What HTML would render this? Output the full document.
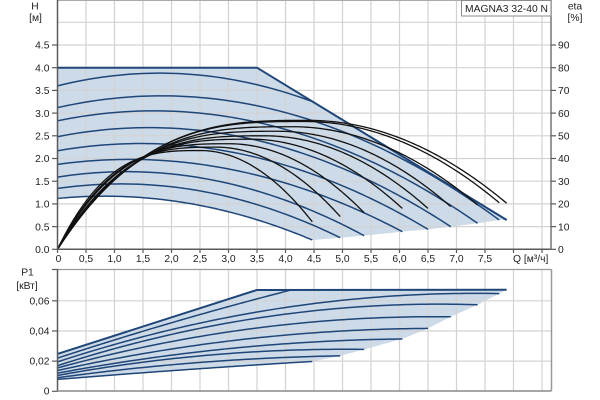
<!DOCTYPE html>
<html><head><meta charset="utf-8">
<style>
html,body{margin:0;padding:0;background:#fff;}
svg{display:block;}
text{font-family:"Liberation Sans",Arial,sans-serif;font-size:10.3px;fill:#222;}
</style></head><body>
<svg id="c" width="600" height="400" viewBox="0 0 600 400" xmlns="http://www.w3.org/2000/svg">
<g id="fills"></g>
<g id="grid"></g>
<g id="curves"></g>
<g id="axes"></g>
<g id="labels">
  <text x="35" y="9.5" text-anchor="middle">H</text>
  <text x="35.5" y="21" text-anchor="middle">[м]</text>
  <text x="575" y="9.5" text-anchor="middle">eta</text>
  <text x="575" y="21" text-anchor="middle">[%]</text>
  <text x="49.5" y="253" text-anchor="end">0.0</text>
  <text x="49.5" y="230.3" text-anchor="end">0.5</text>
  <text x="49.5" y="207.6" text-anchor="end">1.0</text>
  <text x="49.5" y="184.9" text-anchor="end">1.5</text>
  <text x="49.5" y="162.2" text-anchor="end">2.0</text>
  <text x="49.5" y="139.5" text-anchor="end">2.5</text>
  <text x="49.5" y="116.8" text-anchor="end">3.0</text>
  <text x="49.5" y="94.1" text-anchor="end">3.5</text>
  <text x="49.5" y="71.4" text-anchor="end">4.0</text>
  <text x="49.5" y="48.7" text-anchor="end">4.5</text>
  <text x="558" y="253">0</text>
  <text x="558" y="230.3">10</text>
  <text x="558" y="207.6">20</text>
  <text x="558" y="184.9">30</text>
  <text x="558" y="162.2">40</text>
  <text x="558" y="139.5">50</text>
  <text x="558" y="116.8">60</text>
  <text x="558" y="94.1">70</text>
  <text x="558" y="71.4">80</text>
  <text x="558" y="48.7">90</text>
  <text x="58.5" y="262" text-anchor="middle">0</text>
  <text x="86" y="262" text-anchor="middle">0,5</text>
  <text x="114.5" y="262" text-anchor="middle">1,0</text>
  <text x="143" y="262" text-anchor="middle">1,5</text>
  <text x="171.5" y="262" text-anchor="middle">2,0</text>
  <text x="200" y="262" text-anchor="middle">2,5</text>
  <text x="228.5" y="262" text-anchor="middle">3,0</text>
  <text x="257" y="262" text-anchor="middle">3,5</text>
  <text x="285.5" y="262" text-anchor="middle">4,0</text>
  <text x="314" y="262" text-anchor="middle">4,5</text>
  <text x="342.5" y="262" text-anchor="middle">5,0</text>
  <text x="371" y="262" text-anchor="middle">5,5</text>
  <text x="399.5" y="262" text-anchor="middle">6,0</text>
  <text x="428" y="262" text-anchor="middle">6,5</text>
  <text x="456.5" y="262" text-anchor="middle">7,0</text>
  <text x="485" y="262" text-anchor="middle">7,5</text>
  <text x="513" y="262">Q [м³/ч]</text>
  <text x="27.5" y="275.5" text-anchor="middle">P1</text>
  <text x="27" y="289" text-anchor="middle">[кВт]</text>
  <text x="49.5" y="304.5" text-anchor="end">0,06</text>
  <text x="49.5" y="334.5" text-anchor="end">0,04</text>
  <text x="49.5" y="364.7" text-anchor="end">0,02</text>
  <text x="49.5" y="394.7" text-anchor="end">0</text>
</g>
<rect x="461.5" y="0.5" width="89.5" height="15.5" fill="#fff" stroke="#8a8a8a" stroke-width="1"/>
<text x="465" y="11.8">MAGNA3 32-40 N</text>
</svg>
<script>
(function(){
const NS='http://www.w3.org/2000/svg';
function el(tag,attrs,parent){const e=document.createElementNS(NS,tag);for(const k in attrs)e.setAttribute(k,attrs[k]);parent.appendChild(e);return e;}
const gF=document.getElementById('fills'),gG=document.getElementById('grid'),gC=document.getElementById('curves'),gA=document.getElementById('axes');
const X=q=>57.5+57*q, YH=h=>249.3-45.4*h, YE=e=>249.3-2.27*e, YP=p=>391.3-1508*p;
const QE=[7.88,7.75,7.37,6.9,6.5,6.05,5.38,4.96,4.47];
const HP=[[3.60,0.28,0.645],[3.12,0.26,0.645],[2.83,0.22,0.573],[2.48,0.20,0.498],[2.17,0.16,0.44],[1.87,0.11,0.388],[1.59,0.12,0.30],[1.34,0.10,0.255],[1.12,0.05,0.205]];
const diag=q=>q<=3.5?4.0:4.0-(4.0-0.645)/(7.88-3.5)*(q-3.5);
const hf=HP.map((p,i)=>{const A=p[0],d=p[1],He=p[2],qe=QE[i];const s=(Math.sqrt(d)+Math.sqrt(d+A-He))/qe;const c=s*s,b=2*Math.sqrt(c*d);return q=>Math.min(A+b*q-c*q*q,diag(q));});
function pts(f,q0,q1,Y,n){const a=[];for(let k=0;k<=n;k++){const q=q0+(q1-q0)*k/n;a.push([X(q),Y(f(q))]);}return a;}
function pd(a){return 'M'+a.map(p=>p[0].toFixed(2)+','+p[1].toFixed(2)).join('L');}
const FILL='#cddae8', BLUE='#1e4678';
// H fill
let poly=[[X(0),YH(4)],[X(3.5),YH(4)],[X(7.88),YH(0.645)]];
for(let i=1;i<9;i++)poly.push([X(QE[i]),YH(HP[i][2])]);
poly=poly.concat(pts(hf[8],QE[8],0,YH,60));
el('path',{d:pd(poly)+'Z',fill:FILL,stroke:'none'},gF);
// P curves
const PP=[[0.022,2.05,0.046,4.1,0.0672],[0.0195,4.4,0.0577,7.75,0.0648],[0.017,4.4,0.053,7.37,0.0574],[0.0155,4.4,0.0457,6.9,0.0494],[0.0138,4.4,0.0385,6.5,0.0417],[0.012,4.4,0.0325,6.05,0.0347],[0.0105,4.4,0.0276,5.38,0.0278],[0.009,4.4,0.0230,4.96,0.0235],[0.0079,2.235,0.0143,4.47,0.0198]];
const pf=PP.map(p=>{const p0=p[0],qm=p[1],pm=p[2],qe=p[3],pe=p[4];const b=(pe-p0-qe*(pm-p0)/qm)/(qe*(qe-qm));const a=(pm-p0)/qm-qm*b;return q=>Math.min(p0+a*q+b*q*q,0.0673);});
let ppoly=[[X(0),YP(0.0248)],[X(3.5),YP(0.0672)],[X(7.88),YP(0.0673)]];
for(let i=1;i<9;i++)ppoly.push([X(PP[i][3]),YP(PP[i][4])]);
ppoly=ppoly.concat(pts(pf[8],PP[8][3],0,YP,40));
el('path',{d:pd(ppoly)+'Z',fill:FILL,stroke:'none'},gF);
// grid
const GC='#d3d3d3';
for(let k=1;k<=17;k++){const x=X(k*0.5);el('line',{x1:x,y1:0,x2:x,y2:249.3,stroke:GC,'stroke-width':1.2},gG);el('line',{x1:x,y1:269.5,x2:x,y2:391,stroke:GC,'stroke-width':1.2},gG);}
for(let k=1;k<=10;k++){const y=YH(k*0.5);el('line',{x1:57.5,y1:y,x2:551,y2:y,stroke:GC,'stroke-width':1.2},gG);}
[0.02,0.04,0.06].forEach(p=>{const y=YP(p);el('line',{x1:57.5,y1:y,x2:551.5,y2:y,stroke:GC,'stroke-width':1.2},gG);});
// H curves
for(let i=0;i<9;i++)el('path',{d:pd(pts(hf[i],0,QE[i],YH,90)),fill:'none',stroke:BLUE,'stroke-width':1.5},gC);
el('path',{d:pd([[X(0),YH(4)],[X(3.5),YH(4)],[X(7.88),YH(0.645)]]),fill:'none',stroke:BLUE,'stroke-width':2},gC);
// P curves
for(let i=0;i<9;i++)el('path',{d:pd(pts(pf[i],0,PP[i][3],YP,80)),fill:'none',stroke:BLUE,'stroke-width':1.5},gC);
el('path',{d:pd([[X(0),YP(0.0248)],[X(3.5),YP(0.0672)],[X(7.88),YP(0.0673)]]),fill:'none',stroke:BLUE,'stroke-width':2},gC);
// eta curves
const PW=3.0;
const EP=[[4.4,56.8,20.3],[4.34,56.3,20.5],[4.12,54,19.5],[3.86,52,18.8],[3.63,50,18],[3.39,48.5,18],[3.01,46.5,16.1],[2.78,45,14.4],[2.51,43.5,12.1]];
for(let i=0;i<9;i++){const qp=EP[i][0],P=EP[i][1],e=EP[i][2],qe=QE[i];
 const f=q=>{if(q<=qp)return P*(1-Math.pow(1-q/qp,PW));const t=(q-qp)/(qe-qp);return P-(P-e)*t*t;};
 el('path',{d:pd(pts(f,0,qe,YE,140)),fill:'none',stroke:'#111','stroke-width':1.3},gC);}
// axes
const AC='#5a5a5a';
el('line',{x1:57.5,y1:0.5,x2:551,y2:0.5,stroke:'#aaa','stroke-width':1},gA);
el('line',{x1:57.5,y1:0,x2:57.5,y2:250,stroke:AC,'stroke-width':1.5},gA);
el('line',{x1:57,y1:249.3,x2:551,y2:249.3,stroke:AC,'stroke-width':1.5},gA);
el('line',{x1:551,y1:0,x2:551,y2:250,stroke:'#777','stroke-width':1.5},gA);
for(let k=0;k<=9;k++){const y=YH(k*0.5);el('line',{x1:52,y1:y,x2:57.5,y2:y,stroke:AC,'stroke-width':1.2},gA);el('line',{x1:551,y1:y,x2:556,y2:y,stroke:AC,'stroke-width':1.2},gA);}
for(let k=0;k<=17;k++){const x=X(k*0.5);el('line',{x1:x,y1:249.3,x2:x,y2:253,stroke:AC,'stroke-width':1.2},gA);}
// bottom plot frame
el('line',{x1:57.5,y1:269.5,x2:551.5,y2:269.5,stroke:'#999','stroke-width':1.2},gA);
el('line',{x1:551.5,y1:269.5,x2:551.5,y2:391,stroke:'#999','stroke-width':1.5},gA);
el('line',{x1:57.5,y1:269,x2:57.5,y2:391.5,stroke:AC,'stroke-width':1.5},gA);
el('line',{x1:57,y1:391,x2:551.5,y2:391,stroke:'#888','stroke-width':1.5},gA);
[0,0.02,0.04,0.06,0.08].forEach(p=>{const y=p===0.08?269.5:YP(p);el('line',{x1:52,y1:y,x2:57.5,y2:y,stroke:AC,'stroke-width':1.2},gA);});
})();
</script>
</body></html>
